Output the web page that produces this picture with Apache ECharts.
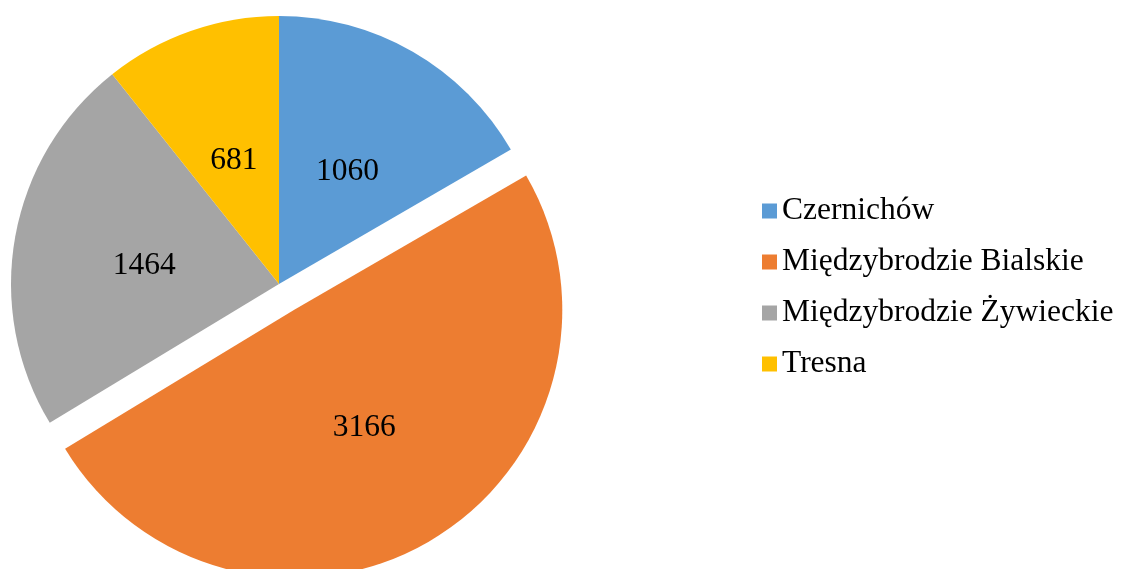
<!DOCTYPE html>
<html>
<head>
<meta charset="utf-8">
<script src="https://cdn.jsdelivr.net/npm/echarts@6/dist/echarts.min.js"></script>
<style>
  html, body { margin: 0; padding: 0; background: #fff; }
  #chart { width: 1122px; height: 569px; }
</style>
</head>
<body>
<div id="chart"></div>
<script>
// villages and their values
const categories = ['Czernichów', 'Międzybrodzie Bialskie', 'Międzybrodzie Żywieckie', 'Tresna'];
const values = [1060, 3166, 1464, 681];
const colors = ['#5B9BD5', '#ED7D31', '#A5A5A5', '#FFC000'];
const exploded = 'Międzybrodzie Bialskie';

const font = 'Liberation Serif, Times New Roman, serif';

const chart = echarts.init(document.getElementById('chart'));

chart.setOption({
  animation: false,
  color: colors,
  legend: {
    orient: 'vertical',
    left: 757,
    top: 190,
    icon: 'rect',
    itemWidth: 15,
    itemHeight: 15,
    itemGap: 19,
    selectedMode: false,
    textStyle: {
      fontFamily: font,
      fontSize: 31.5,
      lineHeight: 32,
      color: '#000',
    },
    data: categories,
  },
  series: [
    {
      type: 'pie',
      center: [279, 284],
      radius: 268,
      startAngle: 90,
      clockwise: true,
      selectedMode: 'single',
      selectedOffset: 30,
      emphasis: { disabled: true },
      label: {
        show: true,
        position: 'inner',
        formatter: '{c}',
        fontFamily: font,
        fontSize: 31.5,
        color: '#000',
        offset: [0, 6],
      },
      labelLine: { show: false },
      itemStyle: { borderWidth: 0 },
      data: categories.map((name, i) => ({
        name: name,
        value: values[i],
        selected: name === exploded,
      })),
    },
  ],
});
</script>
</body>
</html>
